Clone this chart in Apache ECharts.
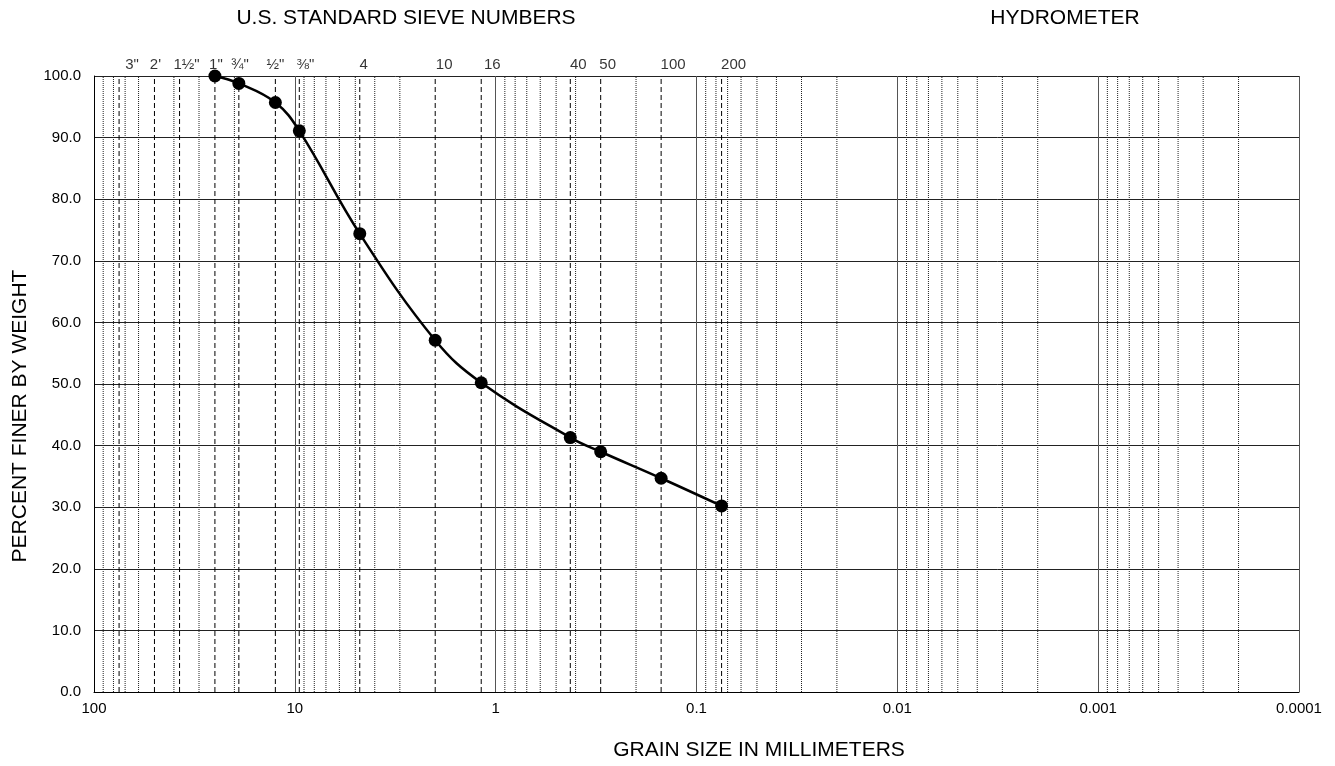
<!DOCTYPE html>
<html>
<head>
<meta charset="utf-8">
<title>Grain size distribution</title>
<script src="https://cdn.jsdelivr.net/npm/echarts@6/dist/echarts.min.js"></script>
<style>
  html, body { margin: 0; padding: 0; background: #fff; }
  #chart { width: 1335px; height: 766px; }
</style>
</head>
<body>
<div id="chart"></div>
<script>
// sieve openings (mm) and their names on the top of the chart
var sieveSizes = [75, 50, 37.5, 25, 19, 12.5, 9.5, 4.75, 2.0, 1.18, 0.425, 0.3, 0.15, 0.075];
var sieveLabels = ['3"', "2'", '1½"', '1"', '¾"', '½"', '⅜"', '4', '10', '16', '40', '50', '100', '200'];
// small sideways nudge of each sieve name (px)
var sieveLabelNudge = [13, 1, 7, 1, 1, 0, 6, 4, 9, 11, 8, 7, 12, 12];

// test result
var grainSizes = [25, 19, 12.5, 9.5, 4.75, 2.0, 1.18, 0.425, 0.3, 0.15, 0.075];
var percentFiner = [100.0, 98.8, 95.7, 91.1, 74.4, 57.1, 50.2, 41.3, 39.0, 34.7, 30.2];

var decadeExps = [-4, -3, -2, -1, 0, 1];
var minorMultipliers = [2, 3, 4, 5, 6, 7, 8, 9];

var FONT = 'Liberation Sans, Arial, sans-serif';

function round6(v) { return Number(v.toPrecision(6)); }

// dotted minor values 2..9 of every decade, except where a sieve line sits
var minorValues = [];
decadeExps.forEach(function (k) {
    minorMultipliers.forEach(function (m) {
        var v = round6(m * Math.pow(10, k));
        if (sieveSizes.indexOf(v) < 0) minorValues.push(v);
    });
});

// full-height vertical segments, broken by an empty point
function verticals(values) {
    var out = [];
    values.forEach(function (v) {
        out.push([v, 0], [v, 100], [v, '-']);
    });
    return out;
}

var myChart = echarts.init(document.getElementById('chart'), null, { renderer: 'canvas' });

var option = {
    animation: false,
    backgroundColor: '#fff',
    textStyle: { fontFamily: FONT, color: '#000' },
    grid: {
        left: 94,
        right: 36,
        top: 76,
        bottom: 74,
        containLabel: false
    },
    xAxis: {
        type: 'log',
        logBase: 10,
        min: 0.0001,
        max: 100,
        inverse: true,
        axisLine: { show: true, lineStyle: { color: '#000', width: 1 } },
        axisTick: { show: false },
        axisLabel: {
            margin: 9,
            fontSize: 15,
            fontFamily: FONT,
            color: '#000',
            formatter: function (v) { return String(Number(v.toPrecision(3))); }
        },
        splitLine: { show: true, lineStyle: { color: '#555', width: 1, type: 'solid' } }
    },
    yAxis: {
        type: 'value',
        min: 0,
        max: 100,
        interval: 10,
        axisLine: { show: true, lineStyle: { color: '#000', width: 1 } },
        axisTick: { show: false },
        axisLabel: {
            margin: 13,
            fontSize: 15,
            fontFamily: FONT,
            color: '#000',
            formatter: function (v) { return v.toFixed(1); }
        },
        splitLine: { show: true, lineStyle: { color: '#222', width: 1 } }
    },
    graphic: [
        {
            type: 'text', x: 406, y: 18,
            style: { text: 'U.S. STANDARD SIEVE NUMBERS', font: '21px ' + FONT, fill: '#000', textAlign: 'center', textVerticalAlign: 'middle' }
        },
        {
            type: 'text', x: 1065, y: 18,
            style: { text: 'HYDROMETER', font: '21px ' + FONT, fill: '#000', textAlign: 'center', textVerticalAlign: 'middle' }
        },
        {
            type: 'text', x: 759, y: 750,
            style: { text: 'GRAIN SIZE IN MILLIMETERS', font: '21px ' + FONT, fill: '#000', textAlign: 'center', textVerticalAlign: 'middle' }
        },
        {
            type: 'text', x: 20, y: 416, rotation: Math.PI / 2,
            style: { text: 'PERCENT FINER BY WEIGHT', font: '21px ' + FONT, fill: '#000', textAlign: 'center', textVerticalAlign: 'middle' }
        }
    ],
    series: [
        {
            name: 'minor',
            type: 'line',
            z: 1,
            silent: true,
            symbol: 'none',
            connectNulls: false,
            lineStyle: { color: '#222', width: 1, type: [1, 1] },
            data: verticals(minorValues)
        },
        {
            name: 'sieveLines',
            type: 'line',
            z: 2,
            silent: true,
            symbol: 'none',
            connectNulls: false,
            lineStyle: { color: '#000', width: 1, type: [5, 3] },
            data: verticals(sieveSizes)
        },
        {
            name: 'sieves',
            type: 'scatter',
            z: 3,
            clip: false,
            silent: true,
            symbolSize: 0,
            data: sieveSizes.map(function (d, i) {
                return { value: [d, 100], label: { offset: [sieveLabelNudge[i], 0] } };
            }),
            label: {
                show: true,
                position: 'top',
                distance: 4,
                fontSize: 15,
                fontFamily: FONT,
                color: '#000',
                formatter: function (p) { return sieveLabels[p.dataIndex]; }
            }
        },
        {
            name: 'Percent finer',
            type: 'line',
            z: 5,
            clip: false,
            smooth: 0.4,
            symbol: 'circle',
            symbolSize: 13,
            itemStyle: { color: '#000' },
            lineStyle: { color: '#000', width: 2.5 },
            data: grainSizes.map(function (d, i) { return [d, percentFiner[i]]; })
        }
    ]
};

myChart.setOption(option);
window.onresize = function () {
    myChart.resize();
};
</script>
</body>
</html>
